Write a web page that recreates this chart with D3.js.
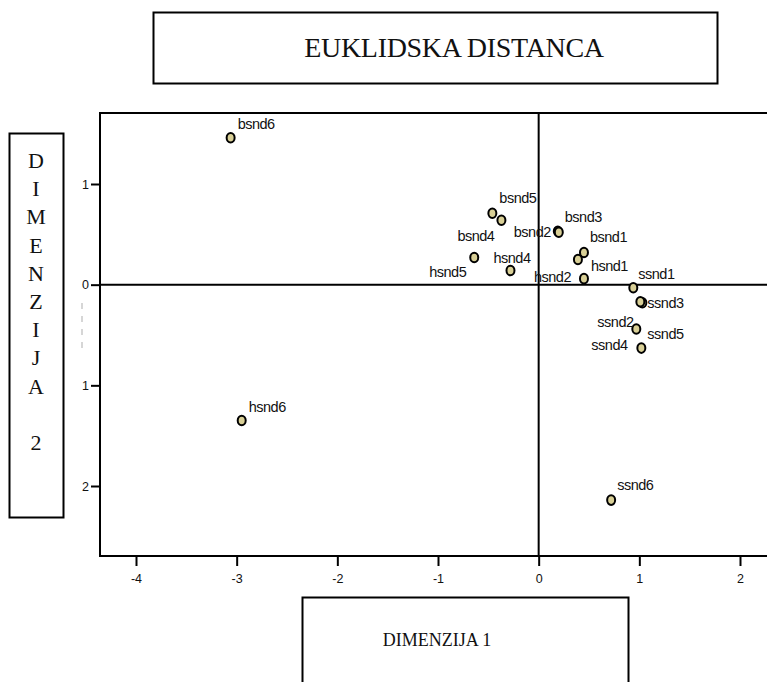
<!DOCTYPE html>
<html>
<head>
<meta charset="utf-8">
<script src="https://cdn.jsdelivr.net/npm/d3@7"></script>
<style>
  html, body { margin: 0; padding: 0; background: #fff; }
  svg { display: block; }
</style>
</head>
<body>
<svg id="chart" width="767" height="682"></svg>
<script>
// ---- data ----
const labels = ["bsnd1","bsnd2","bsnd3","bsnd4","bsnd5","bsnd6",
                "hsnd1","hsnd2","hsnd4","hsnd5","hsnd6",
                "ssnd1","ssnd2","ssnd3","ssnd4","ssnd5","ssnd6"];
const dim1 = [0.45, 0.19, 0.20, -0.37, -0.46, -3.06,
              0.39, 0.45, -0.28, -0.64, -2.95,
              0.94, 1.03, 1.01, 1.02, 0.97, 0.72];
const dim2 = [0.32, 0.53, 0.52, 0.64, 0.71, 1.46,
              0.25, 0.06, 0.14, 0.27, -1.35,
              -0.03, -0.18, -0.17, -0.63, -0.44, -2.14];
const xTicks = [-4, -3, -2, -1, 0, 1, 2];
const xTickLabels = ["-4", "-3", "-2", "-1", "0", "1", "2"];
const yTicks = [1, 0, -1, -2];
const yTickLabels = ["1", "0", "1", "2"];
const titleText = "EUKLIDSKA DISTANCA";
const xTitle = "DIMENZIJA 1";
const yTitleLetters = ["D","I","M","E","N","Z","I","J","A","","2"];

// ---- layout (pixel offsets of labels relative to their points) ----
const labelOffset = {
  bsnd1: [6, -10], bsnd2: [-44, 6], bsnd3: [6, -10], bsnd4: [-44, 21], bsnd5: [7, -10], bsnd6: [7, -9],
  hsnd1: [13, 11], hsnd2: [-50, 3], hsnd4: [-17, -8], hsnd5: [-45, 20], hsnd6: [7, -9],
  ssnd1: [5, -9], ssnd2: [-45, 24], ssnd3: [7, 6], ssnd4: [-50, 2], ssnd5: [11, 10], ssnd6: [6, -10]
};

const svg = d3.select("#chart");
const x = d3.scaleLinear().domain([-4, 2]).range([136, 740]);
const y = d3.scaleLinear().domain([-2, 1]).range([486, 184]);

const frame = { left: 100, top: 113, right: 767, bottom: 556 };

// Title box
svg.append("rect").attr("x", 153.5).attr("y", 12.5).attr("width", 564).attr("height", 71)
  .attr("fill", "none").attr("stroke", "#000").attr("stroke-width", 2);
svg.append("text").attr("x", 454).attr("y", 57).attr("text-anchor", "middle")
  .attr("font-family", "Liberation Serif, Times New Roman, serif").attr("font-size", 28)
  .attr("letter-spacing", -0.3)
  .attr("fill", "#111").text(titleText);

// Y title box
svg.append("rect").attr("x", 9.5).attr("y", 133.5).attr("width", 54).attr("height", 384)
  .attr("fill", "none").attr("stroke", "#000").attr("stroke-width", 2);
svg.append("g").selectAll("text").data(yTitleLetters).join("text")
  .attr("x", 36).attr("y", (d, i) => 168 + i * 28.2)
  .attr("text-anchor", "middle")
  .attr("font-family", "Liberation Serif, Times New Roman, serif").attr("font-size", 22)
  .attr("fill", "#111").text(d => d);

// X title box
svg.append("rect").attr("x", 302.5).attr("y", 597.5).attr("width", 326).attr("height", 100)
  .attr("fill", "none").attr("stroke", "#000").attr("stroke-width", 2);
svg.append("text").attr("x", 437).attr("y", 646).attr("text-anchor", "middle")
  .attr("font-family", "Liberation Serif, Times New Roman, serif").attr("font-size", 18)
  .attr("fill", "#111").text(xTitle);

// Frame lines (left, top, bottom)
const fr = svg.append("g").attr("stroke", "#000").attr("stroke-width", 2);
fr.append("line").attr("x1", frame.left).attr("x2", frame.left).attr("y1", frame.top - 1).attr("y2", frame.bottom + 1);
fr.append("line").attr("x1", frame.left).attr("x2", frame.right).attr("y1", frame.top).attr("y2", frame.top);
fr.append("line").attr("x1", frame.left).attr("x2", frame.right).attr("y1", frame.bottom).attr("y2", frame.bottom);

// Zero reference lines
fr.append("line").attr("x1", x(0)).attr("x2", x(0)).attr("y1", frame.top).attr("y2", frame.bottom);
fr.append("line").attr("x1", frame.left).attr("x2", frame.right).attr("y1", y(0)).attr("y2", y(0));

// faint clipped-text remnant left of the y axis
svg.append("line").attr("x1", 82).attr("x2", 82).attr("y1", 303).attr("y2", 352)
  .attr("stroke", "#bbb").attr("stroke-width", 1.2).attr("stroke-dasharray", "6,7");

// X axis
const xAxis = d3.axisBottom(x).tickValues(xTicks).tickSize(9).tickPadding(8)
  .tickFormat((d, i) => xTickLabels[i]);
const gx = svg.append("g").attr("transform", `translate(0,${frame.bottom + 1})`).call(xAxis);
gx.select(".domain").remove();
gx.selectAll(".tick line").attr("stroke", "#000").attr("stroke-width", 2);
gx.selectAll(".tick text").attr("font-family", "Liberation Sans, Arial, sans-serif")
  .attr("font-size", 12.5).attr("fill", "#111");

// Y axis
const yAxis = d3.axisLeft(y).tickValues(yTicks).tickSize(8).tickPadding(2)
  .tickFormat((d, i) => yTickLabels[i]);
const gy = svg.append("g").attr("transform", `translate(${frame.left - 1},0)`).call(yAxis);
gy.select(".domain").remove();
gy.selectAll(".tick line").attr("stroke", "#000").attr("stroke-width", 2);
gy.selectAll(".tick text").attr("font-family", "Liberation Sans, Arial, sans-serif")
  .attr("font-size", 12.5).attr("fill", "#111");

// Points
const pts = labels.map((l, i) => ({ label: l, d1: dim1[i], d2: dim2[i] }));
svg.append("g").selectAll("ellipse").data(pts).join("ellipse")
  .attr("cx", d => x(d.d1)).attr("cy", d => y(d.d2))
  .attr("rx", 4).attr("ry", 4.8)
  .attr("fill", "#d8cf96").attr("stroke", "#000").attr("stroke-width", 2);

// Labels
svg.append("g").selectAll("text").data(pts).join("text")
  .attr("x", d => x(d.d1) + labelOffset[d.label][0])
  .attr("y", d => y(d.d2) + labelOffset[d.label][1])
  .attr("font-family", "Liberation Sans, Arial, sans-serif").attr("font-size", 14.5)
  .attr("letter-spacing", -0.5)
  .attr("fill", "#111").text(d => d.label);
</script>
</body>
</html>
